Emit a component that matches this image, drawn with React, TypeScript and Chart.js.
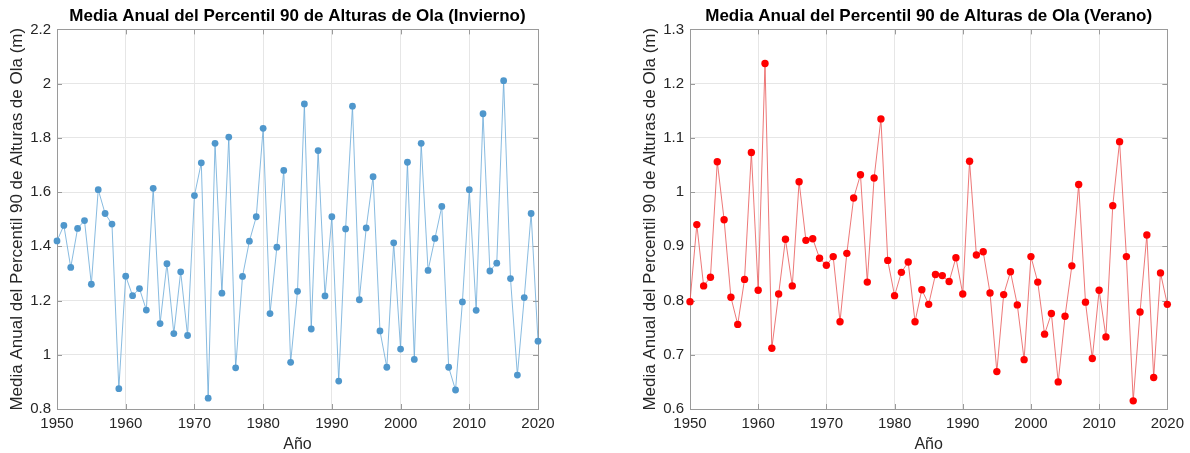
import React, { useEffect, useRef } from "react";
import { Chart, registerables } from "chart.js";

Chart.register(...registerables);

const years = [
  1950, 1951, 1952, 1953, 1954, 1955, 1956, 1957, 1958, 1959,
  1960, 1961, 1962, 1963, 1964, 1965, 1966, 1967, 1968, 1969,
  1970, 1971, 1972, 1973, 1974, 1975, 1976, 1977, 1978, 1979,
  1980, 1981, 1982, 1983, 1984, 1985, 1986, 1987, 1988, 1989,
  1990, 1991, 1992, 1993, 1994, 1995, 1996, 1997, 1998, 1999,
  2000, 2001, 2002, 2003, 2004, 2005, 2006, 2007, 2008, 2009,
  2010, 2011, 2012, 2013, 2014, 2015, 2016, 2017, 2018, 2019,
  2020,
];

const winterValues = [
  1.42, 1.477, 1.322, 1.466, 1.495, 1.26, 1.609, 1.521, 1.482, 0.875,
  1.29, 1.218, 1.244, 1.165, 1.614, 1.115, 1.336, 1.078, 1.306, 1.071,
  1.587, 1.708, 0.84, 1.78, 1.227, 1.803, 0.952, 1.289, 1.419, 1.509,
  1.835, 1.152, 1.397, 1.68, 0.972, 1.234, 1.925, 1.095, 1.753, 1.217,
  1.509, 0.903, 1.464, 1.917, 1.203, 1.468, 1.657, 1.088, 0.954, 1.413,
  1.021, 1.71, 0.983, 1.78, 1.311, 1.429, 1.547, 0.954, 0.87, 1.195,
  1.609, 1.164, 1.889, 1.309, 1.338, 2.011, 1.281, 0.925, 1.211, 1.521,
  1.05,
];

const summerValues = [
  0.798, 0.94, 0.827, 0.843, 1.056, 0.949, 0.806, 0.756, 0.839, 1.073,
  0.819, 1.237, 0.712, 0.812, 0.913, 0.827, 1.019, 0.911, 0.914, 0.878,
  0.865, 0.881, 0.761, 0.887, 0.989, 1.032, 0.834, 1.026, 1.135, 0.874,
  0.809, 0.852, 0.871, 0.761, 0.82, 0.793, 0.848, 0.846, 0.835, 0.879,
  0.812, 1.057, 0.884, 0.89, 0.814, 0.669, 0.811, 0.853, 0.792, 0.691,
  0.881, 0.834, 0.738, 0.776, 0.65, 0.771, 0.864, 1.014, 0.797, 0.693,
  0.819, 0.733, 0.975, 1.093, 0.881, 0.615, 0.779, 0.921, 0.658, 0.851,
  0.793,
];

const titleWinter = "Media Anual del Percentil 90 de Alturas de Ola (Invierno)";
const titleSummer = "Media Anual del Percentil 90 de Alturas de Ola (Verano)";
const yAxisTitle = "Media Anual del Percentil 90 de Alturas de Ola (m)";
const xAxisTitle = "Año";

const FONT = "'Liberation Sans', Arial, Helvetica, sans-serif";
const BOX = "#9a9a9a";

const boxPlugin = {
  id: "boxTicks",
  beforeDatasetsDraw(chart: any) {
    const { ctx, chartArea: a, scales } = chart;
    const len = 5;
    ctx.save();
    ctx.strokeStyle = BOX;
    ctx.lineWidth = 1;
    ctx.beginPath();
    scales.x.ticks.forEach((t: any) => {
      const px = Math.round(scales.x.getPixelForValue(t.value)) + 0.5;
      ctx.moveTo(px, a.bottom);
      ctx.lineTo(px, a.bottom - len);
      ctx.moveTo(px, a.top);
      ctx.lineTo(px, a.top + len);
    });
    scales.y.ticks.forEach((t: any) => {
      const py = Math.round(scales.y.getPixelForValue(t.value)) + 0.5;
      ctx.moveTo(a.left, py);
      ctx.lineTo(a.left + len, py);
      ctx.moveTo(a.right, py);
      ctx.lineTo(a.right - len, py);
    });
    ctx.stroke();
    ctx.strokeRect(
      Math.round(a.left) + 0.5,
      Math.round(a.top) + 0.5,
      Math.round(a.right - a.left),
      Math.round(a.bottom - a.top)
    );
    ctx.restore();
  },
};

function makeConfig(
  title: string,
  values: number[],
  lineColor: string,
  pointColor: string,
  lineWidth: number,
  radius: number,
  yMin: number,
  yMax: number,
  yStep: number,
  padLeft: number,
  padRight: number
): any {
  return {
    type: "line",
    data: {
      datasets: [
        {
          data: years.map((y, i) => ({ x: y, y: values[i] })),
          borderColor: lineColor,
          borderWidth: lineWidth,
          backgroundColor: pointColor,
          pointBackgroundColor: pointColor,
          pointBorderColor: pointColor,
          pointBorderWidth: 0,
          pointRadius: radius,
          tension: 0,
          clip: false,
        },
      ],
    },
    options: {
      responsive: false,
      animation: false,
      devicePixelRatio: 1,
      layout: { padding: { left: padLeft, right: padRight, top: 0, bottom: 0 } },
      plugins: {
        legend: { display: false },
        tooltip: { enabled: false },
        title: {
          display: true,
          text: title,
          fullSize: false,
          color: "#000000",
          font: { family: FONT, size: 17, weight: "bold", lineHeight: 1.2 },
          padding: { top: 6, bottom: 3 },
        },
      },
      scales: {
        x: {
          type: "linear",
          min: 1950,
          max: 2020,
          afterFit(s: any) {
            s.height = 44;
          },
          ticks: {
            stepSize: 10,
            color: "#262626",
            padding: 6,
            maxRotation: 0,
            font: { family: FONT, size: 15 },
            callback: (v: any) => String(v),
          },
          grid: { color: "#e6e6e6", drawTicks: false },
          border: { display: false },
          title: {
            display: true,
            text: xAxisTitle,
            color: "#262626",
            font: { family: FONT, size: 16, lineHeight: 1 },
            padding: 0,
          },
        },
        y: {
          type: "linear",
          min: yMin,
          max: yMax,
          afterFit(s: any) {
            s.width = 57;
          },
          ticks: {
            stepSize: yStep,
            color: "#262626",
            padding: 6,
            font: { family: FONT, size: 15 },
            callback: (v: any) => String(parseFloat(Number(v).toFixed(2))),
          },
          grid: { color: "#e6e6e6", drawTicks: false },
          border: { display: false },
          title: {
            display: true,
            text: yAxisTitle,
            color: "#262626",
            font: { family: FONT, size: 17, lineHeight: 1.2 },
            padding: { top: 7, bottom: 0 },
          },
        },
      },
    },
    plugins: [boxPlugin],
  };
}

function Panel({ config }: { config: any }) {
  const ref = useRef<HTMLCanvasElement | null>(null);
  useEffect(() => {
    if (!ref.current) return;
    const chart = new Chart(ref.current, config);
    return () => chart.destroy();
  }, [config]);
  return <canvas ref={ref} width={595} height={453} style={{ display: "block", width: 595, height: 453 }} />;
}

const winterConfig = makeConfig(titleWinter, winterValues, "#6aa9d8", "#4f97cc", 0.8, 3.4, 0.8, 2.2, 0.2, 0, 57);
const summerConfig = makeConfig(titleSummer, summerValues, "#e85555", "#ff0000", 0.8, 3.7, 0.6, 1.3, 0.1, 38, 19);

export default function App() {
  return (
    <div style={{ position: "fixed", left: 0, top: 0, width: 1190, height: 453, background: "#ffffff", display: "flex" }}>
      <Panel config={winterConfig} />
      <Panel config={summerConfig} />
    </div>
  );
}
